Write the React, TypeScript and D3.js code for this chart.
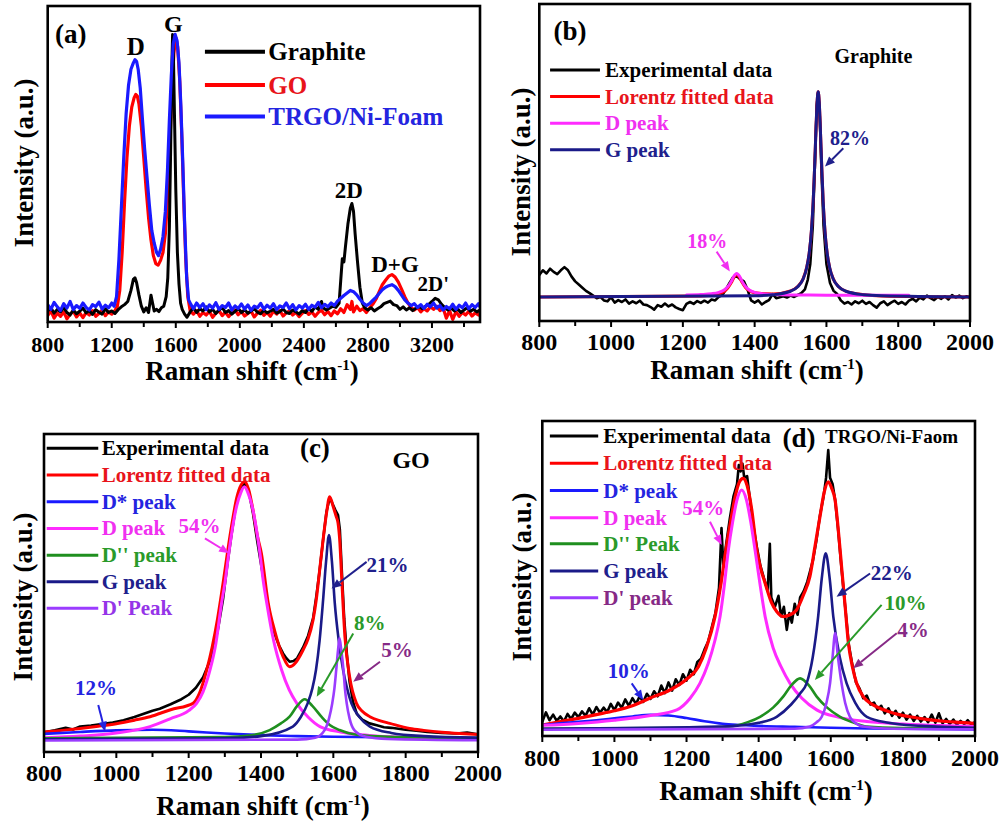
import React from "react";
import * as d3 from "d3";

type Pt = [number, number];

// ---------------- Panel (a): overview spectra ----------------
const aGraphite: Pt[] = [[800,3.5],[820,4.5],[840,2.8],[860,4.0],[880,3.2],[900,4.6],[920,3.0],[940,2.2],[960,3.8],[980,2.6],[1000,3.4],[1020,4.4],[1040,2.9],[1060,3.6],[1080,2.4],[1100,3.9],[1120,3.1],[1140,2.5],[1160,4.2],[1180,3.0],[1200,3.5],[1220,2.7],[1240,3.9],[1260,4.8],[1280,5.5],[1300,6.5],[1320,10.0],[1335,13.5],[1345,14.0],[1355,12.5],[1370,8.5],[1385,5.0],[1400,3.2],[1415,4.5],[1430,3.0],[1445,8.5],[1455,6.0],[1465,3.5],[1480,4.0],[1495,3.3],[1510,4.5],[1525,5.0],[1540,8.0],[1550,14],[1560,30],[1568,55],[1575,80],[1580,91],[1585,85],[1592,65],[1600,42],[1610,22],[1620,12],[1630,6],[1640,4],[1655,2.5],[1670,1.5],[1690,3.2],[1710,4.5],[1730,3.0],[1750,4.2],[1770,3.5],[1790,4.8],[1810,3.2],[1830,4.0],[1850,2.7],[1870,3.8],[1890,4.6],[1910,3.0],[1930,3.6],[1950,2.5],[1970,3.4],[1990,4.3],[2010,3.0],[2030,3.9],[2050,2.8],[2070,3.5],[2090,4.2],[2110,3.1],[2130,2.6],[2150,3.7],[2170,2.9],[2190,3.4],[2210,4.0],[2230,2.8],[2250,3.3],[2270,4.1],[2290,3.0],[2310,2.7],[2330,3.8],[2350,3.2],[2370,2.5],[2390,3.6],[2410,3.0],[2430,4.2],[2450,3.4],[2470,4.8],[2490,4.0],[2510,6.5],[2520,4.5],[2540,3.8],[2560,4.4],[2580,5.0],[2600,4.6],[2620,6.0],[2630,13],[2640,20],[2650,19],[2660,24],[2675,31],[2690,36],[2700,37.5],[2710,35],[2720,28],[2735,19],[2750,11],[2765,6],[2780,4.5],[2800,3.8],[2820,4.5],[2840,3.5],[2860,4.2],[2880,4.8],[2900,5.8],[2920,6.2],[2940,6.6],[2960,5.5],[2980,5.2],[3000,4.0],[3020,4.8],[3040,3.8],[3060,4.5],[3080,3.6],[3100,4.4],[3120,5.0],[3140,4.2],[3160,5.0],[3180,5.6],[3200,6.5],[3220,7.5],[3240,7.0],[3260,5.6],[3280,4.6],[3300,3.8],[3320,4.4],[3340,3.5],[3360,4.2],[3380,3.0],[3400,3.8],[3420,4.5],[3440,3.4],[3460,4.0],[3480,3.2],[3500,3.8]];
const aGO: Pt[] = [[800,2.0],[820,3.5],[840,1.2],[860,2.8],[880,1.8],[900,3.2],[920,1.0],[940,2.5],[960,3.4],[980,1.6],[1000,2.9],[1020,1.4],[1040,3.0],[1060,2.2],[1080,3.6],[1100,1.8],[1120,2.7],[1140,3.8],[1160,2.0],[1180,3.2],[1200,2.5],[1220,3.6],[1235,5],[1250,10],[1265,22],[1280,38],[1295,52],[1310,62],[1325,68],[1340,71],[1350,72],[1360,71.5],[1370,69],[1385,62],[1400,52],[1415,42],[1430,33],[1445,26],[1460,21],[1475,18.5],[1490,18],[1505,19.5],[1520,22],[1535,28],[1550,40],[1562,55],[1575,72],[1588,85],[1600,90],[1612,87],[1625,76],[1638,58],[1650,38],[1662,20],[1675,8],[1690,3.5],[1710,2.5],[1730,3.6],[1750,1.8],[1770,3.0],[1790,2.2],[1810,3.4],[1830,1.5],[1850,2.8],[1870,3.6],[1890,2.0],[1910,3.1],[1930,1.7],[1950,2.9],[1970,3.8],[1990,2.3],[2010,3.3],[2030,1.9],[2050,2.7],[2070,3.5],[2090,1.6],[2110,2.8],[2130,3.7],[2150,2.1],[2170,3.0],[2190,1.8],[2210,3.4],[2230,2.5],[2250,3.6],[2270,1.9],[2290,2.9],[2310,3.5],[2330,2.2],[2350,3.1],[2370,1.7],[2390,2.8],[2410,3.6],[2430,2.4],[2450,3.2],[2470,1.8],[2490,3.0],[2510,3.7],[2530,2.3],[2550,3.3],[2570,2.0],[2590,3.5],[2610,2.6],[2630,4.2],[2650,3.0],[2670,5.5],[2690,4.0],[2700,6.5],[2710,3.2],[2730,5.0],[2750,3.6],[2770,4.2],[2790,3.0],[2810,4.4],[2830,5.6],[2850,7.2],[2870,9.5],[2890,11.8],[2910,13.2],[2930,14.5],[2950,15.0],[2970,14.2],[2990,12.6],[3010,10.4],[3030,8.0],[3050,6.0],[3070,4.6],[3090,3.8],[3110,4.6],[3130,3.2],[3150,4.2],[3170,3.5],[3190,4.8],[3210,4.0],[3230,5.0],[3250,3.6],[3270,4.4],[3290,1.2],[3310,3.6],[3330,0.8],[3350,3.3],[3370,1.8],[3390,3.0],[3410,2.2],[3430,3.4],[3450,1.9],[3470,2.9],[3490,2.2],[3500,3.0]];
const aTRGO: Pt[] = [[800,5.5],[820,4.0],[840,6.2],[860,4.8],[880,3.6],[900,5.8],[920,4.4],[940,6.5],[960,3.9],[980,5.2],[1000,4.3],[1020,6.0],[1040,4.6],[1060,3.8],[1080,5.5],[1100,4.9],[1120,6.3],[1140,4.1],[1160,5.3],[1180,4.5],[1200,6.0],[1215,5.0],[1230,8],[1245,20],[1260,36],[1275,52],[1290,66],[1305,75],[1320,80],[1335,82],[1345,83],[1355,82.5],[1365,80],[1378,74],[1392,64],[1405,55],[1420,46],[1435,37],[1450,29],[1465,25],[1480,22],[1492,21],[1505,23],[1520,27],[1535,35],[1548,48],[1560,64],[1572,78],[1584,88],[1596,91],[1608,89],[1620,82],[1632,68],[1644,50],[1656,30],[1668,14],[1680,7],[1695,5.5],[1710,4.2],[1730,6.0],[1750,4.6],[1770,5.8],[1790,3.9],[1810,5.4],[1830,4.4],[1850,6.1],[1870,4.0],[1890,5.2],[1910,4.6],[1930,6.0],[1950,3.8],[1970,5.1],[1990,4.3],[2010,5.7],[2030,4.1],[2050,5.4],[2070,3.7],[2090,5.0],[2110,4.5],[2130,5.9],[2150,4.0],[2170,5.3],[2190,4.4],[2210,5.8],[2230,3.9],[2250,5.1],[2270,4.6],[2290,6.0],[2310,4.2],[2330,5.5],[2350,3.8],[2370,5.2],[2390,4.4],[2410,5.6],[2430,4.0],[2450,5.3],[2470,4.7],[2490,6.2],[2510,4.5],[2530,5.6],[2550,4.8],[2570,6.0],[2590,5.2],[2610,6.6],[2630,7.5],[2650,8.4],[2670,9.2],[2690,10.0],[2710,9.6],[2730,8.6],[2750,7.2],[2770,6.0],[2790,5.2],[2810,5.8],[2830,6.8],[2850,7.8],[2870,9.0],[2890,10.2],[2910,11.0],[2930,11.5],[2950,11.8],[2970,11.2],[2990,10.0],[3010,8.5],[3030,7.0],[3050,6.0],[3070,5.2],[3090,5.8],[3110,4.6],[3130,5.5],[3150,4.3],[3170,5.6],[3190,4.8],[3210,6.0],[3230,4.4],[3250,5.2],[3270,3.8],[3290,4.9],[3310,4.2],[3330,5.6],[3350,4.0],[3370,5.3],[3390,4.5],[3410,6.0],[3430,4.2],[3450,5.5],[3470,4.6],[3490,5.8],[3500,4.8]];
const aTickLabels = [800, 1200, 1600, 2000, 2400, 2800, 3200];
const aMinorTicks = [1000, 1400, 1800, 2200, 2600, 3000, 3400];

// ---------------- Panel (b): graphite fit ----------------
const bExp: Pt[] = [[800,14.5],[810,16],[820,15],[830,16.5],[840,15.5],[850,14.8],[860,16],[870,17],[880,16],[890,14],[900,12.5],[910,11.5],[920,10.5],[930,9.5],[940,8.8],[950,8],[960,7.2],[970,7.6],[980,6.5],[990,6.2],[1000,7.5],[1010,5.8],[1020,6.6],[1030,6],[1040,6.8],[1050,5.5],[1060,6.2],[1070,5.6],[1080,6.4],[1090,5.2],[1100,5.0],[1110,4.4],[1120,3.6],[1130,5.0],[1140,4.5],[1150,5.5],[1160,4.6],[1170,5.2],[1180,4.3],[1190,3.8],[1200,3.4],[1210,5.4],[1220,6.0],[1230,5.4],[1240,6.3],[1250,5.7],[1260,6.4],[1270,5.8],[1280,6.8],[1290,6.5],[1300,7.6],[1310,8.2],[1320,10],[1330,12],[1340,13.8],[1350,14.2],[1360,13.2],[1370,12.5],[1380,10],[1390,6.5],[1400,5.8],[1410,6.5],[1420,5.2],[1430,6.0],[1440,6.6],[1450,8.5],[1460,7.2],[1470,7.5],[1480,7.8],[1490,7.4],[1500,8.0],[1510,7.6],[1520,8.2],[1530,8.8],[1540,10],[1548,13],[1555,18],[1562,30],[1568,50],[1573,68],[1577,72],[1581,66],[1586,48],[1592,30],[1600,18],[1610,12],[1620,9.5],[1630,8.5],[1640,6.5],[1650,5.5],[1660,6],[1670,5.2],[1680,6.2],[1690,5.6],[1700,6.4],[1710,5.4],[1720,6.0],[1730,5.0],[1740,4.2],[1750,5.6],[1760,6.2],[1770,5.0],[1780,5.8],[1790,6.4],[1800,5.4],[1810,6.0],[1820,5.2],[1830,6.4],[1840,7.0],[1850,6.2],[1860,7.4],[1870,6.8],[1880,8.0],[1890,7.2],[1900,6.6],[1910,7.6],[1920,7.0],[1930,7.8],[1940,6.8],[1950,8.2],[1960,7.4],[1970,8.0],[1980,7.2],[1990,7.8],[2000,7.4]];
const bFit: Pt[] = [[800,7.6],[1250,7.9],[1300,8.6],[1325,10.4],[1335,12.1],[1342,13.7],[1350,14.6],[1358,13.7],[1365,12.2],[1375,10.5],[1385,9.6],[1400,8.9],[1450,8.5],[1500,9.5],[1520,10.9],[1535,13.3],[1545,16.9],[1552,21.4],[1558,28.2],[1563,37.5],[1567,48.3],[1571,60.9],[1574,69],[1577,72.3],[1580,69],[1583,60.9],[1587,48.3],[1591,37.5],[1596,28.2],[1602,21.4],[1609,16.8],[1619,13.3],[1634,10.8],[1654,9.4],[1704,8.3],[1754,7.9],[2000,7.6]];
const bDPeak: Pt[] = [[1210,8.2],[1250,8.35],[1280,8.6],[1300,9.05],[1315,9.8],[1325,10.8],[1335,12.5],[1342,14.1],[1350,15.0],[1358,14.1],[1365,12.5],[1375,10.8],[1385,9.8],[1400,9.05],[1420,8.6],[1450,8.35],[1500,8.2],[1600,8.15],[1830,8.1]];
const bGPeak: Pt[] = [[800,7.6],[1400,7.95],[1450,8.27],[1500,9.39],[1520,10.8],[1535,13.25],[1545,16.8],[1552,21.4],[1558,28.2],[1563,37.5],[1567,48.3],[1571,60.9],[1574,69.0],[1577,72.3],[1580,69.0],[1583,60.9],[1587,48.3],[1591,37.5],[1596,28.2],[1602,21.4],[1609,16.8],[1619,13.25],[1634,10.8],[1654,9.39],[1704,8.27],[1754,7.95],[2000,7.6]];

const fitTickLabels = [800, 1000, 1200, 1400, 1600, 1800, 2000];
const fitMinorTicks = [900, 1100, 1300, 1500, 1700, 1900];

// ---------------- Panel (c): GO fit ----------------
const cExp: Pt[] = [[800,6.2],[830,6.8],[860,7.6],[880,7.1],[900,8.0],[930,8.3],[960,8.8],[990,9.3],[1020,10.0],[1050,11.0],[1080,12.2],[1100,13.0],[1120,13.6],[1150,15.0],[1180,16.6],[1200,18.0],[1220,20.2],[1240,23.5],[1260,29.0],[1280,38.0],[1295,48],[1307,59],[1318,68],[1330,77],[1342,82.5],[1354,84.5],[1366,82],[1378,75],[1390,66],[1401,58.5],[1412,51],[1425,43],[1438,37],[1450,33.5],[1461,31],[1470,29.5],[1479,28.4],[1490,28.6],[1500,29.5],[1516,32.8],[1530,36.5],[1544,42],[1553,49],[1562,57],[1572,67],[1581,75.5],[1590,80],[1598,78],[1606,76],[1613,74.5],[1618,70],[1623,58],[1630,42],[1638,30],[1645,22],[1655,15.5],[1665,12],[1680,10.2],[1700,9.0],[1720,8.4],[1740,7.8],[1760,7.6],[1780,7.3],[1800,7.0],[1830,6.7],[1860,6.3],[1900,6.0],[1940,5.8],[1970,6.1],[2000,5.6]];
const cFit: Pt[] = [[800,6.3],[850,6.8],[900,7.4],[950,8.1],[1000,8.9],[1050,10.0],[1093,11.1],[1150,13.3],[1212,15.3],[1230,18.5],[1250,25.8],[1265,33],[1280,42],[1295,53],[1307,62.5],[1320,72],[1333,80],[1345,84],[1355,85],[1366,82.5],[1378,76],[1390,68],[1401,62.5],[1420,46.8],[1438,38],[1461,30],[1479,26.8],[1495,28],[1516,32],[1530,35.5],[1544,41.5],[1553,48],[1562,57],[1572,67],[1581,75],[1590,80.3],[1600,77],[1608,74],[1613,72],[1618,66],[1622,57.2],[1632,36.3],[1645,23.7],[1664,15.3],[1680,12.8],[1701,11.1],[1730,9.8],[1756,9.0],[1811,7.4],[1850,6.8],[1900,6.2],[1950,5.8],[2000,5.5]];
const cDstar: Pt[] = [[800,5.7],[900,6.3],[1000,6.8],[1100,7.0],[1200,6.5],[1300,5.8],[1400,5.3],[1500,5.0],[1600,4.8],[1800,4.6],[2000,4.5]];
const cD: Pt[] = [[800,4.5],[900,5.0],[1000,6.0],[1093,8],[1150,10.5],[1200,13],[1222,15.3],[1240,19],[1259,25.8],[1275,34],[1291,46.8],[1300,53],[1311,62.5],[1322,71],[1333,77.5],[1344,81.5],[1354,83.4],[1364,81.5],[1375,77.5],[1386,71],[1397,62.5],[1406,54],[1416,46.8],[1435,35],[1457,25.8],[1478,19.5],[1499,15.3],[1530,11],[1563,8],[1620,6.3],[1700,5.2],[1800,4.6],[1900,4.3],[2000,4.1]];
const cD2: Pt[] = [[800,4.3],[1300,4.7],[1369,5.2],[1424,6.9],[1455,9],[1479,11.1],[1500,14.5],[1521,16.6],[1542,14.5],[1567,11.1],[1590,8.5],[1617,6.9],[1664,5.4],[1750,4.8],[2000,4.4]];
const cG: Pt[] = [[800,4.0],[1300,4.3],[1400,5.0],[1488,8],[1510,11],[1529,15.3],[1542,20],[1552,25.8],[1562,35],[1571,46.8],[1580,60],[1588,68.2],[1596,60],[1604,46.8],[1615,35],[1627,25.8],[1638,20],[1650,15.3],[1672,11],[1701,8],[1760,6],[1850,5],[2000,4.5]];
const cDprime: Pt[] = [[800,3.6],[1500,3.9],[1550,4.5],[1576,6.9],[1588,10.5],[1597,15.3],[1603,20],[1608,25.8],[1613,32],[1617,35.8],[1622,32],[1628,25.8],[1632,20],[1637,15.3],[1645,10.5],[1658,6.9],[1690,4.8],[1750,4.1],[2000,3.7]];

// ---------------- Panel (d): TRGO/Ni-Foam fit ----------------
const dExp: Pt[] = [[800,4.5],[810,7.5],[820,5.0],[830,6.8],[840,4.8],[850,6.2],[860,4.6],[870,7.0],[880,5.4],[890,7.4],[900,6.0],[910,7.8],[920,6.4],[930,8.8],[940,6.8],[950,9.2],[960,7.4],[970,9.0],[980,7.6],[990,10.2],[1000,8.2],[1010,10.6],[1020,9.0],[1030,11.6],[1040,9.6],[1050,12.0],[1060,10.2],[1070,12.6],[1080,10.8],[1090,13.4],[1100,11.8],[1110,14.2],[1120,12.6],[1130,16.0],[1140,13.6],[1150,17.0],[1160,14.4],[1170,18.0],[1180,16.2],[1190,19.6],[1200,17.6],[1210,21.0],[1220,19.6],[1230,23.5],[1240,24.5],[1250,27.5],[1260,30.0],[1270,34.5],[1280,39.0],[1290,47.0],[1297,66.0],[1302,54.0],[1310,61.0],[1320,69.0],[1330,76.0],[1340,80.0],[1345,86.0],[1350,84.0],[1355,86.5],[1360,82.0],[1368,82.5],[1375,76.0],[1385,67.0],[1395,60.0],[1405,54.0],[1415,50.0],[1425,46.0],[1431,61.0],[1435,44.0],[1445,41.0],[1455,44.5],[1462,38.0],[1470,41.0],[1478,33.7],[1485,39.0],[1492,36.0],[1500,42.0],[1508,38.5],[1515,44.0],[1525,46.0],[1535,49.0],[1542,52.0],[1551,56.0],[1560,62.0],[1570,70.0],[1580,76.0],[1587,82.0],[1593,90.8],[1598,82.0],[1605,80.0],[1612,75.0],[1620,66.0],[1630,53.0],[1640,41.0],[1650,29.0],[1660,22.5],[1670,17.0],[1680,15.0],[1690,12.0],[1700,12.8],[1710,10.0],[1720,10.6],[1730,8.4],[1740,9.6],[1750,7.2],[1760,8.8],[1770,6.4],[1780,8.0],[1790,5.8],[1800,7.4],[1810,5.2],[1820,6.8],[1830,4.8],[1840,6.4],[1850,4.6],[1860,6.0],[1870,4.4],[1880,6.8],[1890,4.2],[1900,7.2],[1910,4.0],[1920,5.4],[1930,3.8],[1940,5.2],[1950,3.6],[1960,4.8],[1970,3.8],[1980,5.0],[1990,3.6],[2000,4.4]];
const dFit: Pt[] = [[800,3.5],[850,4.6],[900,5.6],[950,6.8],[1000,8.0],[1050,9.6],[1098,12],[1154,14.6],[1200,18],[1233,22],[1255,28],[1279,37.9],[1295,48],[1309,59],[1322,68],[1335,76],[1346,80.5],[1357,81.8],[1368,79.5],[1380,72.5],[1395,59],[1406,53],[1418,48.5],[1435,42.5],[1450,39.5],[1468,37.9],[1487,38.5],[1505,40],[1525,45],[1542,50.6],[1556,60],[1570,69.6],[1582,77.5],[1593,80.7],[1603,78.5],[1612,74.9],[1622,64],[1630,53.7],[1640,41],[1649,29.4],[1660,22],[1672,16.7],[1690,12.5],[1710,10.4],[1727,9.3],[1760,7.8],[1790,6.8],[1820,6.1],[1870,5.2],[1920,4.6],[1960,4.3],[2000,4.0]];
const dDstar: Pt[] = [[800,3.5],[850,4.0],[900,4.5],[950,5.0],[1000,5.6],[1050,6.2],[1100,6.7],[1150,6.5],[1200,5.7],[1250,4.7],[1300,3.9],[1350,3.5],[1400,3.2],[1500,2.9],[1600,2.6],[1700,2.4],[1800,2.3],[2000,2.1]];
const dD: Pt[] = [[800,3.4],[900,4.0],[1000,5.0],[1100,6.5],[1173,8.3],[1210,12],[1237,16.7],[1260,23],[1278,30],[1293,37.9],[1305,48],[1316,59],[1328,68],[1340,75],[1353,78.1],[1366,75],[1378,68],[1390,59],[1404,48],[1418,37.9],[1440,28],[1462,22],[1487,16.7],[1520,12],[1561,8.3],[1620,6.0],[1700,4.6],[1800,3.8],[1900,3.3],[2000,3.0]];
const dD2: Pt[] = [[800,2.3],[1200,2.6],[1320,3.0],[1370,4.4],[1404,6.1],[1440,9],[1468,12.5],[1490,16],[1515,18.3],[1540,16],[1561,12.5],[1590,9],[1626,6.1],[1660,4.4],[1700,3.0],[1800,2.5],[2000,2.3]];
const dG: Pt[] = [[800,2.3],[1300,3.0],[1400,4.2],[1450,6.1],[1490,10],[1515,13.5],[1533,16.7],[1550,25],[1565,37.9],[1575,50],[1586,58],[1597,50],[1607,37.9],[1625,25],[1644,16.7],[1668,10.5],[1700,6.1],[1760,4.2],[1850,3.2],[2000,2.6]];
const dDprime: Pt[] = [[800,2.0],[1500,2.3],[1542,3.0],[1560,4.3],[1575,6.1],[1588,10.5],[1598,16.7],[1605,25],[1612,32.6],[1620,25],[1630,16.7],[1640,10.5],[1653,6.1],[1670,4.0],[1690,3.0],[1750,2.4],[2000,2.1]];

// ---------------- styling ----------------
const FONT = "'Liberation Serif', 'Times New Roman', Times, serif";
const COL = {
  black: "#000000",
  red: "#ff0000",
  redText: "#e8141b",
  blue: "#1a1aff",
  blueText: "#2424e0",
  magenta: "#ff2bff",
  magentaText: "#f030f0",
  green: "#1f8f1f",
  greenText: "#2a9a2a",
  navy: "#1a1a88",
  navyText: "#20208c",
  violet: "#9b3cff",
  violetText: "#9535e8",
  purpleText: "#862a86",
};

type Series = { data: Pt[]; color: string; width: number; smooth?: boolean };
type LegendItem = { label: string; line: string; text: string };
type Note = { text: string; x: number; y: number; size: number; color: string; anchor?: "start" | "middle" | "end"; arrow?: [number, number, number, number] };
type Box = { l: number; t: number; r: number; b: number };
type PanelSpec = {
  id: string;
  box: Box;
  xDomain: [number, number];
  labelTicks: number[];
  minorTicks: number[];
  tickFont: number;
  tickLabelOffset: number;
  series: Series[];
  legend: { x0: number; x1: number; tx: number; rows: number[]; size: number; lineW: number; items: LegendItem[] };
  notes: Note[];
  xTitle: { x: number; y: number };
  yTitle: { x: number; y: number };
};

function Arrow({ x1, y1, x2, y2, color }: { x1: number; y1: number; x2: number; y2: number; color: string }) {
  const ang = Math.atan2(y2 - y1, x2 - x1);
  const L = 10, W = 4.2;
  const bx = x2 - L * Math.cos(ang);
  const by = y2 - L * Math.sin(ang);
  const px = W * Math.sin(ang), py = -W * Math.cos(ang);
  const pts = `${x2},${y2} ${bx + px},${by + py} ${bx - px},${by - py}`;
  return (
    <g>
      <line x1={x1} y1={y1} x2={bx} y2={by} stroke={color} strokeWidth={2} />
      <polygon points={pts} fill={color} />
    </g>
  );
}

function Panel({ spec }: { spec: PanelSpec }) {
  const { box } = spec;
  const x = d3.scaleLinear().domain(spec.xDomain).range([box.l, box.r]);
  const y = d3.scaleLinear().domain([0, 100]).range([box.b, box.t]);
  const lineLinear = d3.line<Pt>().x((d) => x(d[0])).y((d) => y(d[1])).curve(d3.curveLinear);
  const lineSmooth = d3.line<Pt>().x((d) => x(d[0])).y((d) => y(d[1])).curve(d3.curveMonotoneX);
  const clip = `clip-${spec.id}`;
  return (
    <g fontFamily={FONT} fontWeight="bold">
      <defs>
        <clipPath id={clip}>
          <rect x={box.l} y={box.t} width={box.r - box.l} height={box.b - box.t} />
        </clipPath>
      </defs>
      <g clipPath={`url(#${clip})`}>
        {spec.series.map((s, i) => (
          <path
            key={i}
            d={(s.smooth ? lineSmooth : lineLinear)(s.data) || ""}
            fill="none"
            stroke={s.color}
            strokeWidth={s.width}
            strokeLinejoin="round"
            strokeLinecap="round"
          />
        ))}
      </g>
      {/* legend */}
      {spec.legend.items.map((it, i) => (
        <g key={i}>
          <line
            x1={x(spec.legend.x0)}
            x2={x(spec.legend.x1)}
            y1={y(spec.legend.rows[i])}
            y2={y(spec.legend.rows[i])}
            stroke={it.line}
            strokeWidth={spec.legend.lineW}
          />
          <text
            x={x(spec.legend.tx)}
            y={y(spec.legend.rows[i])}
            dominantBaseline="central"
            fontSize={spec.legend.size}
            fill={it.text}
          >
            {it.label}
          </text>
        </g>
      ))}
      {/* annotations */}
      {spec.notes.map((n, i) => (
        <g key={i}>
          {n.arrow && (
            <Arrow x1={x(n.arrow[0])} y1={y(n.arrow[1])} x2={x(n.arrow[2])} y2={y(n.arrow[3])} color={n.color} />
          )}
          <text x={x(n.x)} y={y(n.y)} fontSize={n.size} fill={n.color} textAnchor={n.anchor || "middle"}>
            {n.text}
          </text>
        </g>
      ))}
      {/* frame */}
      <rect x={box.l} y={box.t} width={box.r - box.l} height={box.b - box.t} fill="none" stroke="#000" strokeWidth={2.6} />
      {/* ticks */}
      {spec.labelTicks.map((t) => (
        <g key={`m${t}`}>
          <line x1={x(t)} x2={x(t)} y1={box.b} y2={box.b + 6} stroke="#000" strokeWidth={2} />
          <text x={x(t)} y={box.b + spec.tickLabelOffset} textAnchor="middle" fontSize={spec.tickFont} fill="#000">
            {t}
          </text>
        </g>
      ))}
      {spec.minorTicks.map((t) => (
        <line key={`n${t}`} x1={x(t)} x2={x(t)} y1={box.b} y2={box.b + 5} stroke="#000" strokeWidth={2} />
      ))}
      {/* axis titles */}
      <text x={spec.xTitle.x} y={spec.xTitle.y} textAnchor="middle" fontSize={27} fill="#000">
        Raman shift (cm
        <tspan dy={-10} fontSize={15}>-1</tspan>
        <tspan dy={10}>)</tspan>
      </text>
      <text
        transform={`translate(${spec.yTitle.x},${spec.yTitle.y}) rotate(-90)`}
        textAnchor="middle"
        dominantBaseline="central"
        fontSize={27}
        fill="#000"
      >
        Intensity (a.u.)
      </text>
    </g>
  );
}

const fitLegendC: LegendItem[] = [
  { label: "Experimental data", line: COL.black, text: COL.black },
  { label: "Lorentz fitted data", line: COL.red, text: COL.redText },
  { label: "D* peak", line: COL.blue, text: COL.blueText },
  { label: "D peak", line: COL.magenta, text: COL.magentaText },
  { label: "D'' peak", line: COL.green, text: COL.greenText },
  { label: "G peak", line: COL.navy, text: COL.navyText },
  { label: "D' Peak", line: COL.violet, text: COL.violetText },
];
const fitLegendD: LegendItem[] = [
  { label: "Experimental data", line: COL.black, text: COL.black },
  { label: "Lorentz fitted data", line: COL.red, text: COL.redText },
  { label: "D* peak", line: COL.blue, text: COL.blueText },
  { label: "D peak", line: COL.magenta, text: COL.magentaText },
  { label: "D'' Peak", line: COL.green, text: COL.greenText },
  { label: "G peak", line: COL.navy, text: COL.navyText },
  { label: "D' peak", line: COL.violet, text: COL.purpleText },
];

const panels: PanelSpec[] = [
  {
    id: "a",
    box: { l: 47.7, t: 6, r: 480, b: 322 },
    xDomain: [800, 3500],
    labelTicks: aTickLabels,
    minorTicks: aMinorTicks,
    tickFont: 22,
    tickLabelOffset: 30,
    series: [
      { data: aGO, color: COL.red, width: 3.2 },
      { data: aGraphite, color: COL.black, width: 3 },
      { data: aTRGO, color: COL.blue, width: 3.2 },
    ],
    legend: {
      x0: 1782, x1: 2157, tx: 2178, rows: [85.5, 75, 65], size: 25, lineW: 4,
      items: [
        { label: "Graphite", line: COL.black, text: COL.black },
        { label: "GO", line: COL.red, text: COL.redText },
        { label: "TRGO/Ni-Foam", line: COL.blue, text: COL.blueText },
      ],
    },
    notes: [
      { text: "(a)", x: 944, y: 88.2, size: 27, color: "#000" },
      { text: "D", x: 1350, y: 84.5, size: 25, color: "#000" },
      { text: "G", x: 1585, y: 91.8, size: 24, color: "#000" },
      { text: "2D", x: 2680, y: 39.2, size: 23, color: "#000" },
      { text: "D+G", x: 2969, y: 15.9, size: 23, color: "#000" },
      { text: "2D'", x: 3208, y: 9.8, size: 21, color: "#000" },
    ],
    xTitle: { x: 252, y: 380 },
    yTitle: { x: 24, y: 163 },
  },
  {
    id: "b",
    box: { l: 539.3, t: 4, r: 970, b: 321 },
    xDomain: [800, 2000],
    labelTicks: fitTickLabels,
    minorTicks: fitMinorTicks,
    tickFont: 24,
    tickLabelOffset: 29,
    series: [
      { data: bExp, color: COL.black, width: 2.6 },
      { data: bFit, color: COL.red, width: 3, smooth: true },
      { data: bDPeak, color: COL.magenta, width: 3, smooth: true },
      { data: bGPeak, color: COL.navy, width: 3, smooth: true },
    ],
    legend: {
      x0: 830, x1: 969, tx: 983, rows: [79.2, 70.8, 62.4, 54.0], size: 21, lineW: 3,
      items: [
        { label: "Experimental data", line: COL.black, text: COL.black },
        { label: "Lorentz fitted data", line: COL.red, text: COL.redText },
        { label: "D peak", line: COL.magenta, text: COL.magentaText },
        { label: "G peak", line: COL.navy, text: COL.navyText },
      ],
    },
    notes: [
      { text: "(b)", x: 885.5, y: 88.6, size: 27, color: "#000" },
      { text: "Graphite", x: 1731, y: 81.3, size: 20, color: "#000" },
      { text: "18%", x: 1268, y: 22.9, size: 20, color: COL.magentaText, arrow: [1294, 21.9, 1331, 15.6] },
      { text: "82%", x: 1666, y: 55.5, size: 20, color: COL.navyText, arrow: [1647, 54.5, 1596, 48.7] },
    ],
    xTitle: { x: 757, y: 379 },
    yTitle: { x: 521, y: 172 },
  },
  {
    id: "c",
    box: { l: 44, t: 434, r: 478, b: 752 },
    xDomain: [800, 2000],
    labelTicks: fitTickLabels,
    minorTicks: fitMinorTicks,
    tickFont: 24,
    tickLabelOffset: 29,
    series: [
      { data: cExp, color: COL.black, width: 2.6 },
      { data: cFit, color: COL.red, width: 3, smooth: true },
      { data: cDstar, color: COL.blue, width: 2.6, smooth: true },
      { data: cD, color: COL.magenta, width: 3, smooth: true },
      { data: cD2, color: COL.green, width: 2.6, smooth: true },
      { data: cG, color: COL.navy, width: 2.6, smooth: true },
      { data: cDprime, color: COL.violet, width: 2.6, smooth: true },
    ],
    legend: { x0: 807.5, x1: 950, tx: 959.5, rows: [95.5, 87.1, 78.7, 70.3, 61.9, 53.5, 45.2], size: 21, lineW: 3, items: fitLegendC },
    notes: [
      { text: "(c)", x: 1549, y: 92.9, size: 27, color: "#000" },
      { text: "GO", x: 1815, y: 89.3, size: 24, color: "#000" },
      { text: "54%", x: 1230, y: 68.8, size: 21, color: COL.magentaText, arrow: [1245, 67.2, 1312, 62.5] },
      { text: "21%", x: 1750, y: 56.7, size: 21, color: COL.navyText, arrow: [1692, 59.8, 1595, 51.4] },
      { text: "8%", x: 1701, y: 38.4, size: 21, color: COL.greenText, arrow: [1655, 37.3, 1554, 17.4] },
      { text: "5%", x: 1776, y: 30, size: 21, color: COL.purpleText, arrow: [1729, 28.4, 1655, 22.1] },
      { text: "12%", x: 944, y: 17.9, size: 21, color: COL.blueText, arrow: [950, 14.8, 969, 6.4] },
    ],
    xTitle: { x: 263, y: 815 },
    yTitle: { x: 23, y: 597 },
  },
  {
    id: "d",
    box: { l: 542.3, t: 421, r: 975, b: 736 },
    xDomain: [800, 2000],
    labelTicks: fitTickLabels,
    minorTicks: fitMinorTicks,
    tickFont: 24,
    tickLabelOffset: 30,
    series: [
      { data: dExp, color: COL.black, width: 2.6 },
      { data: dFit, color: COL.red, width: 3.2, smooth: true },
      { data: dDstar, color: COL.blue, width: 2.6, smooth: true },
      { data: dD, color: COL.magenta, width: 3, smooth: true },
      { data: dD2, color: COL.green, width: 2.6, smooth: true },
      { data: dG, color: COL.navy, width: 2.6, smooth: true },
      { data: dDprime, color: COL.violet, width: 2.6, smooth: true },
    ],
    legend: { x0: 821, x1: 955, tx: 969, rows: [95.2, 86.6, 77.9, 69.3, 61.0, 52.4, 43.9], size: 21, lineW: 3, items: fitLegendD },
    notes: [
      { text: "(d)", x: 1512, y: 91.8, size: 27, color: "#000" },
      { text: "TRGO/Ni-Faom", x: 1584, y: 92.9, size: 19, color: "#000", anchor: "start" },
      { text: "54%", x: 1246.5, y: 70.2, size: 21, color: COL.magentaText, arrow: [1265, 68.0, 1297.5, 60.6] },
      { text: "22%", x: 1769, y: 49.5, size: 21, color: COL.navyText, arrow: [1709, 51.6, 1616, 44.2] },
      { text: "10%", x: 1807, y: 40, size: 21, color: COL.greenText, arrow: [1741, 41.6, 1556, 17.8] },
      { text: "4%", x: 1828, y: 31.5, size: 21, color: COL.purpleText, arrow: [1783, 32.6, 1662, 21.5] },
      { text: "10%", x: 1040, y: 18.3, size: 21, color: COL.blueText, arrow: [1048, 16.7, 1080, 11.4] },
    ],
    xTitle: { x: 766, y: 800 },
    yTitle: { x: 522, y: 577 },
  },
];

export default function App() {
  return (
    <svg
      width={1003}
      height={829}
      viewBox="0 0 1003 829"
      style={{ position: "absolute", left: 0, top: 0, background: "#ffffff" }}
    >
      <rect x={0} y={0} width={1003} height={829} fill="#ffffff" />
      {panels.map((p) => (
        <Panel key={p.id} spec={p} />
      ))}
    </svg>
  );
}
